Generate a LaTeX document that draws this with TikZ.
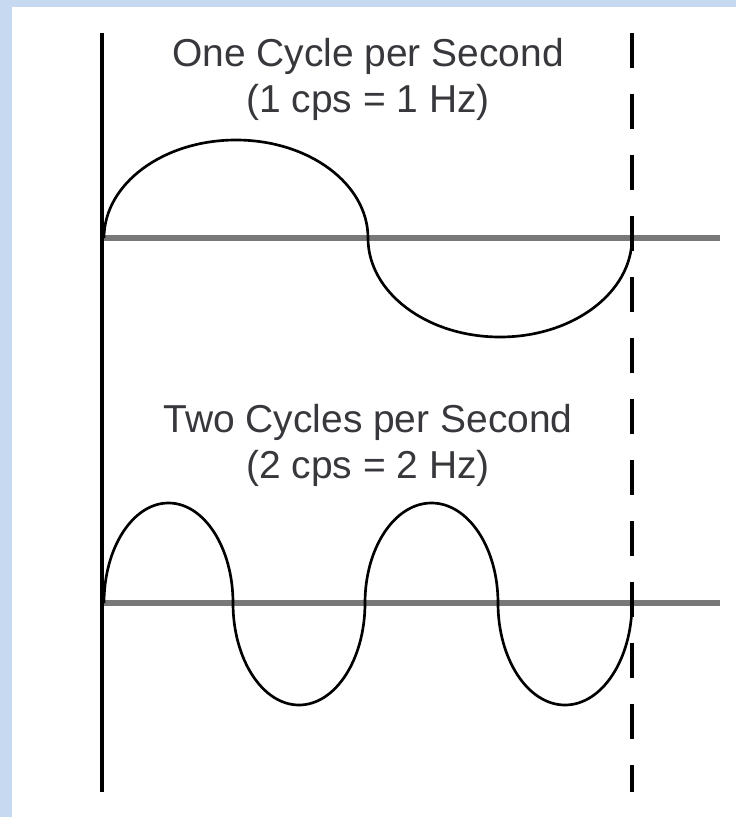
\documentclass[tikz,border=0pt]{standalone}
\usepackage{fontspec}
\setmainfont{Liberation Sans}
\usepackage{tikz}
\usetikzlibrary{positioning}
\definecolor{frame}{RGB}{198,217,241}
\definecolor{axis}{RGB}{120,120,120}
\definecolor{label}{RGB}{55,55,60}

\begin{document}
\begin{tikzpicture}[x=.75pt,y=-.75pt,
  wave/.style={black,line width=2pt},
  axisline/.style={axis,line width=4.5pt},
  marker/.style={black,line width=3pt},
  title/.style={align=center,text=label,inner sep=0pt,font=\fontsize{29.2}{34.5}\selectfont}]
\fill[frame] (0,0) rectangle (736,817);
\fill[white] (12,7) rectangle (736,817);
\useasboundingbox (0,0) rectangle (736,817);
% start and end of one second
\coordinate (s0top) at (102,33);
\coordinate (s0bot) at (102,792);
\coordinate (s1top) at (632,33);
\coordinate (s1bot) at (632,792);
% one cycle per second
\coordinate (ax1l) at (102,238);
\coordinate (ax1r) at (720,238);
\draw[axisline] (ax1l) -- (ax1r);
\draw[wave] (104,238) arc[start angle=180,end angle=360,x radius=132,y radius=98]
  arc[start angle=180,end angle=0,x radius=132,y radius=99];
\node[title] (one) at (368,79) {One Cycle per Second\\(1 cps = 1 Hz)};
% two cycles per second
\coordinate (ax2l) at (102,603);
\coordinate (ax2r) at (720,603);
\draw[axisline] (ax2l) -- (ax2r);
\draw[wave] (104,603) arc[start angle=180,end angle=360,x radius=64.5,y radius=100]
  arc[start angle=180,end angle=0,x radius=66,y radius=102]
  arc[start angle=180,end angle=360,x radius=66.5,y radius=100]
  arc[start angle=180,end angle=0,x radius=67,y radius=102];
\node[title] (two) at (368,445) {Two Cycles per Second\\(2 cps = 2 Hz)};
% time markers on top
\draw[marker] (s0top) -- (s0bot);
\draw[marker,dash pattern=on 26.25pt off 19.5pt] (s1top) -- (s1bot);
\end{tikzpicture}
\end{document}
